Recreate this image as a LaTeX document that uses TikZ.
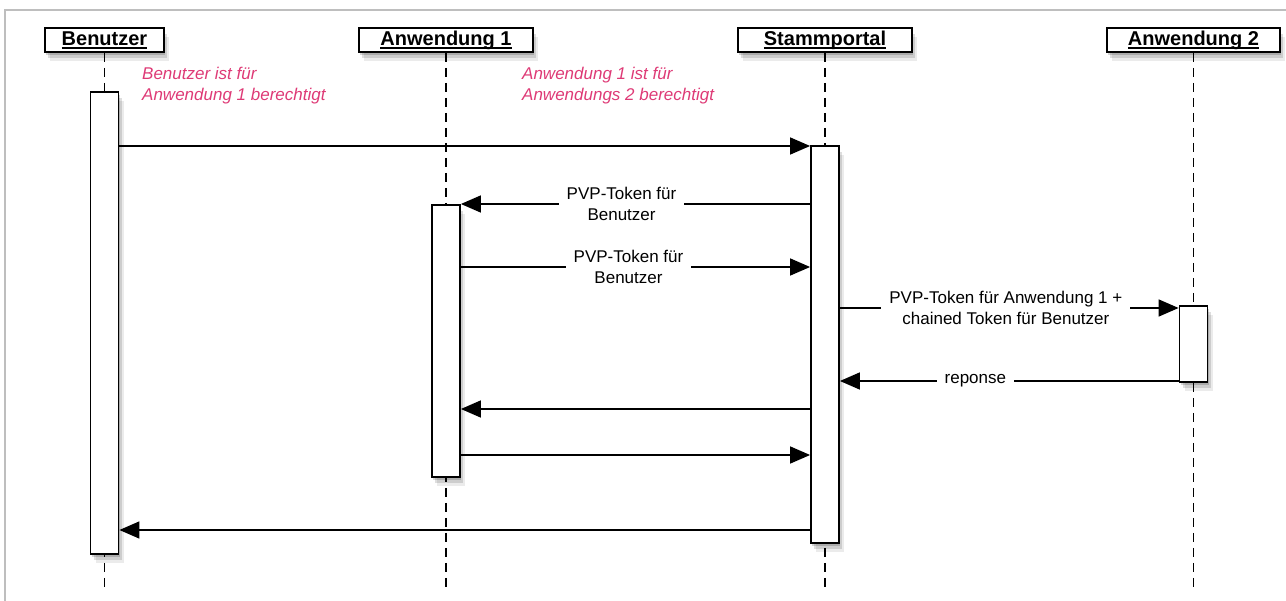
\documentclass[tikz,border=0pt]{standalone}
\usepackage{fontspec}
\setmainfont{Liberation Sans}
\usetikzlibrary{arrows.meta,shadows}
\definecolor{notepink}{RGB}{222,58,118}
\definecolor{framegray}{RGB}{190,190,190}
\newcommand\hdrul[1]{\setbox0\hbox{#1}\leavevmode\rlap{\vrule width\wd0 height -1.8pt depth 3.6pt}\box0}
\tikzset{
  softshadow/.style={
    general shadow={fill=black,opacity=.16,shadow xshift=1pt,shadow yshift=-3pt},
    general shadow={fill=black,opacity=.13,shadow xshift=3pt,shadow yshift=-6pt},
    general shadow={fill=black,opacity=.08,shadow xshift=5pt,shadow yshift=-9pt}},
  header/.style={draw=black,line width=1.8pt,fill=white,softshadow,minimum width=#1,minimum height=24,inner sep=0pt,
    font=\fontsize{20}{24}\selectfont\bfseries},
  actbox/.style={draw=black,line width=1.8pt,fill=white,softshadow,minimum width=28,minimum height=#1,inner sep=0pt},
  lifeline/.style={line width=1.8pt,dash pattern=on 9pt off 6pt},
  msg/.style={line width=1.5pt,-{Triangle[length=20pt,width=17pt]}},
  msglabel/.style={fill=white,inner xsep=8pt,inner ysep=1pt,align=center,font=\fontsize{17}{21}\selectfont},
  note/.style={anchor=north west,align=left,inner sep=0pt,text=notepink,font=\fontsize{17}{21}\selectfont\itshape},
}
\begin{document}
\begin{tikzpicture}[x=1pt,y=-1pt]
\useasboundingbox (0,0) rectangle (1286,601);
% frame
\draw[framegray,line width=1.5pt] (5,601) -- (5,10) -- (1286,10);
% headers
\node[header=119] (ben) at (104.5,40) {\hdrul{Benutzer}};
\node[header=174] (an1) at (446,40) {\hdrul{Anwendung 1}};
\node[header=174] (stm) at (825,40) {\hdrul{Stammportal}};
\node[header=173] (an2) at (1193.5,40) {\hdrul{Anwendung 2}};
% lifeline ends
\coordinate (benend) at (104.5,590);
\coordinate (an1end) at (446,590);
\coordinate (stmend) at (825,590);
\coordinate (an2end) at (1193.5,590);
\draw[lifeline] (ben.south) -- (benend);
\draw[lifeline] (an1.south) -- (an1end);
\draw[lifeline] (stm.south) -- (stmend);
\draw[lifeline] (an2.south) -- (an2end);
% activations
\node[actbox=462] (bena) at (104.5,323) {};
\node[actbox=272] (an1a) at (446,341) {};
\node[actbox=397] (stma) at (825,344.5) {};
\node[actbox=76] (an2a) at (1193.5,344) {};
% notes
\node[note] (n1) at (142,67) {Benutzer ist für\\Anwendung 1 berechtigt};
\node[note] (n2) at (522,67) {Anwendung 1 ist für\\Anwendungs 2 berechtigt};
% messages
\draw[msg] (bena.east |- 0,146) -- (stma.west |- 0,146);
\draw[msg] (stma.west |- 0,204) -- node[msglabel,pos=0.54] (l1) {PVP-Token für\\Benutzer} (an1a.east |- 0,204);
\draw[msg] (an1a.east |- 0,267) -- node[msglabel,pos=0.48] (l2) {PVP-Token für\\Benutzer} (stma.west |- 0,267);
\draw[msg] (stma.east |- 0,308) -- node[msglabel,pos=0.49] (l3) {PVP-Token für Anwendung 1 +\\chained Token für Benutzer} (an2a.west |- 0,308);
\draw[msg] (an2a.west |- 0,381) -- node[msglabel,pos=0.6] (l4) {reponse} (stma.east |- 0,381);
\draw[msg] (stma.west |- 0,409) -- (an1a.east |- 0,409);
\draw[msg] (an1a.east |- 0,455) -- (stma.west |- 0,455);
\draw[msg] (stma.west |- 0,530) -- (bena.east |- 0,530);
\end{tikzpicture}
\end{document}
